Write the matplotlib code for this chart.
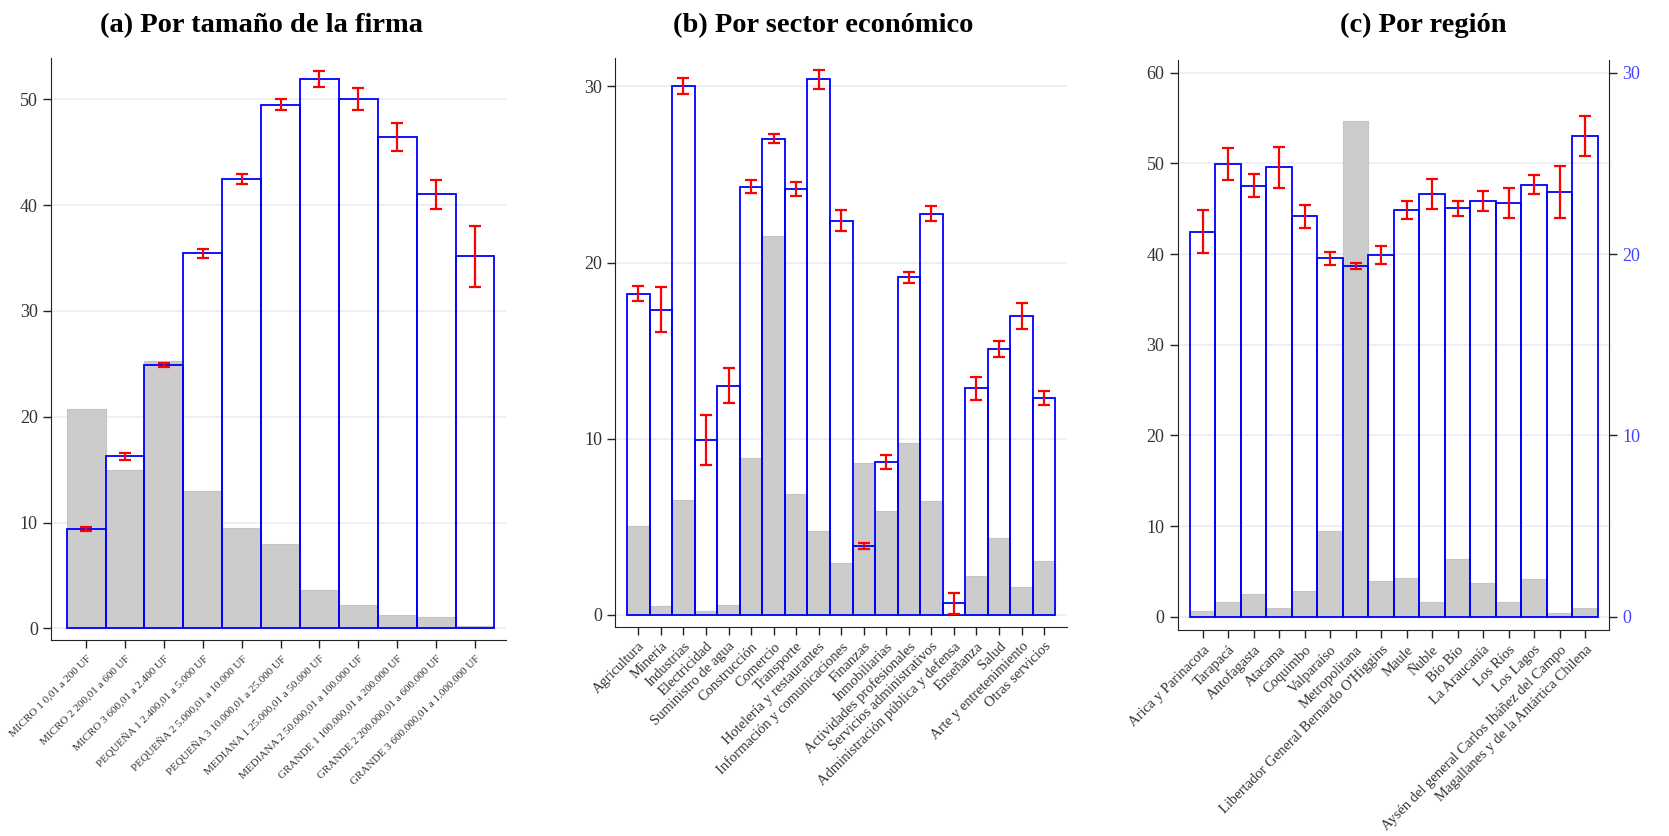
import matplotlib
matplotlib.use("Agg")
import matplotlib.pyplot as plt
import numpy as np

plt.rcParams['font.family'] = ['Liberation Serif', 'DejaVu Serif']

# (a) firm size
tam_labels = ['MICRO 1 0,01 a 200 UF', 'MICRO 2 200,01 a 600 UF', 'MICRO 3 600,01 a 2.400 UF',
              'PEQUEÑA 1 2.400,01 a 5.000 UF', 'PEQUEÑA 2 5.000,01 a 10.000 UF',
              'PEQUEÑA 3 10.000,01 a 25.000 UF', 'MEDIANA 1 25.000,01 a 50.000 UF',
              'MEDIANA 2 50.000,01 a 100.000 UF', 'GRANDE 1 100.000,01 a 200.000 UF',
              'GRANDE 2 200.000,01 a 600.000 UF', 'GRANDE 3 600.000,01 a 1.000.000 UF']
tam_share = [20.7, 15.0, 25.3, 13.0, 9.5, 8.0, 3.6, 2.2, 1.3, 1.1, 0.2]
tam_mean = [9.4, 16.25, 24.9, 35.43, 42.46, 49.49, 51.95, 50.0, 46.46, 41.01, 35.15]
tam_err = [0.2, 0.32, 0.2, 0.4, 0.47, 0.52, 0.77, 1.03, 1.3, 1.4, 2.85]

# (b) economic sector
sec_labels = ['Agricultura', 'Minería', 'Industrias', 'Electricidad', 'Suministro de agua',
              'Construcción', 'Comercio', 'Transporte', 'Hotelería y restaurantes',
              'Información y comunicaciones', 'Finanzas', 'Inmobiliarias',
              'Actividades profesionales', 'Servicios administrativos',
              'Administración pública y defensa', 'Enseñanza', 'Salud',
              'Arte y entretenimiento', 'Otras servicios']
sec_share = [5.05, 0.5, 6.5, 0.2, 0.57, 8.9, 21.5, 6.87, 4.75, 2.93, 8.6, 5.9, 9.77, 6.44,
             0.0, 2.2, 4.33, 1.6, 3.05]
sec_mean = [18.22, 17.33, 30.04, 9.9, 13.0, 24.3, 27.03, 24.15, 30.4, 22.37, 3.9, 8.68,
            19.15, 22.78, 0.65, 12.86, 15.1, 16.97, 12.3]
sec_err = [0.43, 1.3, 0.46, 1.42, 1.0, 0.37, 0.25, 0.4, 0.53, 0.6, 0.18, 0.4, 0.32, 0.42,
           0.6, 0.66, 0.45, 0.74, 0.4]

# (c) region (mean on right axis)
reg_labels = ['Arica y Parinacota', 'Tarapacá', 'Antofagasta', 'Atacama', 'Coquimbo',
              'Valparaíso', 'Metropolitana', "Libertador General Bernardo O'Higgins",
              'Maule', 'Ñuble', 'Bío Bío', 'La Araucanía', 'Los Ríos', 'Los Lagos',
              'Aysén del general Carlos Ibáñez del Campo',
              'Magallanes y de la Antártica Chilena']
reg_share = [0.63, 1.57, 2.5, 0.99, 2.86, 9.44, 54.67, 3.92, 4.27, 1.57, 6.38, 3.69, 1.57,
             4.15, 0.4, 0.99]
reg_mean = [21.23, 24.98, 23.77, 24.78, 22.08, 19.76, 19.34, 19.97, 22.41, 23.31, 22.52,
            22.94, 22.81, 23.83, 23.4, 26.5]
reg_err = [1.2, 0.87, 0.65, 1.12, 0.62, 0.34, 0.15, 0.5, 0.5, 0.83, 0.41, 0.55, 0.85,
           0.52, 1.43, 1.1]

GRAY = '#cccccc'
BLUE = '#0000ff'
RED = '#ff0000'
GRID = '#e8eef3'
TXT = '#333333'

fig = plt.figure(figsize=(16.69, 8.36), dpi=100)


def style_axis(ax, yticks):
    ax.set_yticks(yticks)
    ax.grid(axis='y', color=GRID, linewidth=1.2, zorder=0)
    ax.set_axisbelow(True)
    for s in ['top', 'right']:
        ax.spines[s].set_visible(False)
    ax.spines['left'].set_color('#222222')
    ax.spines['bottom'].set_color('#222222')
    ax.tick_params(axis='y', labelsize=13, colors='#222222', labelcolor=TXT, length=6,
                   width=1)
    ax.tick_params(axis='x', colors='#222222', labelcolor=TXT, length=6, width=1)


def draw_panel(ax, labels, share, mean, err, fontsize, mean_ax=None):
    x = np.arange(1, len(labels) + 1)
    ax.bar(x, share, width=1.0, color=GRAY, edgecolor='#c4c4c4', linewidth=0.8, zorder=2)
    tax = mean_ax if mean_ax is not None else ax
    tax.bar(x, mean, width=1.0, facecolor='none', edgecolor=BLUE, linewidth=1.3, zorder=3)
    tax.errorbar(x, mean, yerr=err, fmt='none', ecolor=RED, elinewidth=1.6, capsize=4,
                 capthick=1.6, zorder=4)
    ax.set_xticks(x)
    ax.set_xticklabels(labels, rotation=45, ha='right', rotation_mode='anchor',
                       fontsize=fontsize)


# panel (a)
ax1 = fig.add_axes([0.0306, 0.2344, 0.2724, 0.6962])
draw_panel(ax1, tam_labels, tam_share, tam_mean, tam_err, 8)
ax1.set_xlim(0.1, 11.79)
ax1.set_ylim(-1.1, 53.9)
style_axis(ax1, [0, 10, 20, 30, 40, 50])

# panel (b)
ax2 = fig.add_axes([0.3687, 0.2504, 0.2704, 0.6799])
draw_panel(ax2, sec_labels, sec_share, sec_mean, sec_err, 10.5)
ax2.set_xlim(-0.02, 20.0)
ax2.set_ylim(-0.68, 31.6)
style_axis(ax2, [0, 10, 20, 30])

# panel (c) with the mean on a secondary axis
ax3 = fig.add_axes([0.7056, 0.2464, 0.2587, 0.6818])
ax3r = ax3.twinx()
draw_panel(ax3, reg_labels, reg_share, reg_mean, reg_err, 10.5, mean_ax=ax3r)
ax3.set_xlim(0.02, 16.95)
ax3.set_ylim(-1.47, 61.4)
ax3r.set_ylim(-1.47 / 2, 61.4 / 2)
style_axis(ax3, [0, 10, 20, 30, 40, 50, 60])
ax3r.set_yticks([0, 10, 20, 30])
for s in ['top', 'left', 'bottom']:
    ax3r.spines[s].set_visible(False)
ax3r.spines['right'].set_color('#222222')
ax3r.tick_params(axis='y', labelsize=13, colors='#222222', labelcolor='#4444ff', length=6,
                 width=1)

fig.text(0.1564, 0.969, '(a) Por tamaño de la firma', ha='center', va='center',
         fontsize=20.5, fontweight='bold')
fig.text(0.4931, 0.969, '(b) Por sector económico', ha='center', va='center',
         fontsize=20.5, fontweight='bold')
fig.text(0.8526, 0.969, '(c) Por región', ha='center', va='center',
         fontsize=20.5, fontweight='bold')

fig.savefig('out.png', dpi=100)
